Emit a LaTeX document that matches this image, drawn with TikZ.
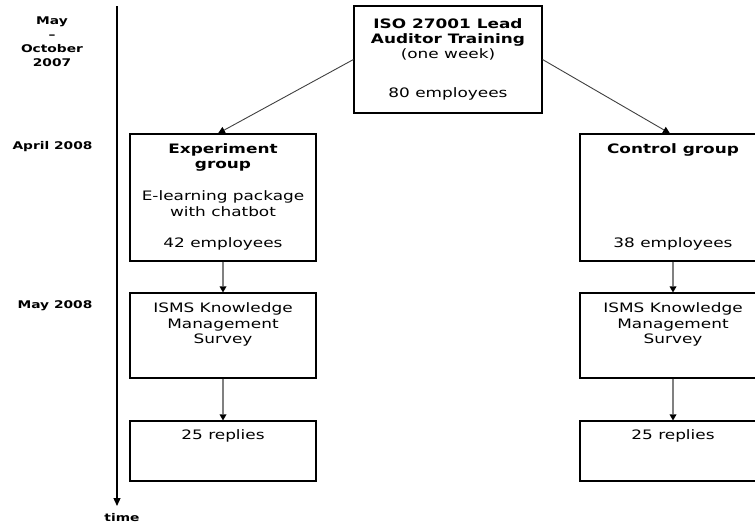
\documentclass[tikz,border=0pt]{standalone}
\usepackage{fontspec}
\setmainfont{DejaVu Sans}[FakeStretch=1.3]
\usetikzlibrary{arrows.meta}
\definecolor{arrgray}{RGB}{128,128,128}
\begin{document}
\begin{tikzpicture}[x=1pt,y=-1pt,
  box/.style={draw=black,line width=1.1pt,inner sep=0pt},
  txt/.style={anchor=base,inner sep=0pt,font=\fontsize{13}{16}\selectfont},
  btxt/.style={anchor=base,inner sep=0pt,font=\fontsize{13}{16}\selectfont\bfseries},
  lab/.style={anchor=base,inner sep=0pt,font=\fontsize{10.6}{13}\selectfont\bfseries},
  varrow/.style={draw=arrgray,line width=2.6pt,-{Triangle[length=6pt,width=7pt,line width=0pt,fill=black,color=black]}},
  darrow/.style={draw=black!75,line width=0.9pt,-{Triangle[length=7pt,width=7pt,color=black]}},
  taxis/.style={draw=black,line width=1.3pt,-{Triangle[length=8pt,width=7pt]}}]
\useasboundingbox (0,0) rectangle (755,523);
\clip (0,0) rectangle (755,523);
% time axis
\coordinate (ta) at (117,6);
\coordinate (tb) at (117,506);
\draw[taxis] (ta) -- (tb);
\node[lab] (time) at (122,521) {time};
% left labels
\node[lab] (l1) at (52,24) {May};
\node[lab] (l2) at (52,38) {–};
\node[lab] (l3) at (52,52) {October};
\node[lab] (l4) at (52,66) {2007};
\node[lab] (l5) at (52.5,149) {April 2008};
\node[lab] (l6) at (55,308) {May 2008};
% boxes
\node[box,minimum width=188pt,minimum height=107pt] (top) at (448,59.5) {};
\node[box,minimum width=186pt,minimum height=127pt] (exp) at (223,197.5) {};
\node[box,minimum width=186pt,minimum height=127pt] (ctl) at (673,197.5) {};
\node[box,minimum width=186pt,minimum height=85pt] (s1) at (223,335.5) {};
\node[box,minimum width=186pt,minimum height=85pt] (s2) at (673,335.5) {};
\node[box,minimum width=186pt,minimum height=60pt] (r1) at (223,451) {};
\node[box,minimum width=186pt,minimum height=60pt] (r2) at (673,451) {};
% texts
\node[btxt] (t1) at (448,28) {ISO 27001 Lead};
\node[btxt] (t2) at (448,43) {Auditor Training};
\node[txt] (t3) at (448,58) {(one week)};
\node[txt] (t4) at (448,97) {80 employees};
\node[btxt] (e1) at (223,153) {Experiment};
\node[btxt] (e2) at (223,168) {group};
\node[txt] (e3) at (223,200) {E-learning package};
\node[txt] (e4) at (223,216) {with chatbot};
\node[txt] (e5) at (223,247) {42 employees};
\node[btxt] (c1) at (673,153) {Control group};
\node[txt] (c2) at (673,247) {38 employees};
\node[txt] (s1a) at (223,312) {ISMS Knowledge};
\node[txt] (s1b) at (223,328) {Management};
\node[txt] (s1c) at (223,343) {Survey};
\node[txt] (s2a) at (673,312) {ISMS Knowledge};
\node[txt] (s2b) at (673,328) {Management};
\node[txt] (s2c) at (673,343) {Survey};
\node[txt] (r1a) at (223,439) {25 replies};
\node[txt] (r2a) at (673,439) {25 replies};
% connectors
\draw[darrow] (top.west) -- ([xshift=-5pt]exp.north);
\draw[darrow] (top.east) -- ([xshift=-3pt]ctl.north);
\draw[varrow] (exp.south) -- (s1.north);
\draw[varrow] (ctl.south) -- (s2.north);
\draw[varrow] (s1.south) -- (r1.north);
\draw[varrow] (s2.south) -- (r2.north);
\end{tikzpicture}
\end{document}
